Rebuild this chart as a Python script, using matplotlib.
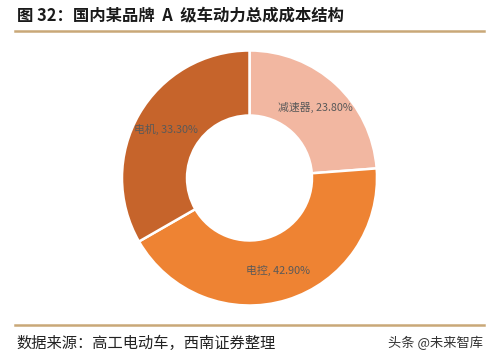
import matplotlib.pyplot as plt
import numpy as np

plt.rcParams['font.family'] = ['Noto Sans CJK SC', 'DejaVu Sans']

# 数据
categories = ['减速器', '电控', '电机']
shares = [23.80, 42.90, 33.30]
colors = ['#F2B7A1', '#EE8333', '#C6642B']

title = '图 32：国内某品牌  A  级车动力总成成本结构'
source = '数据来源：高工电动车，西南证券整理'
mark = '头条 @未来智库'
line_color = '#C9A878'

fig = plt.figure(figsize=(4.95, 3.59), dpi=100)

# 环形图，中心约 (249.5, 178)，半径约 127.5 像素
cx, cy, r = 249.5, 178, 127.5
ax = fig.add_axes([(cx - r) / 495, (359 - cy - r) / 359, 2 * r / 495, 2 * r / 359])
wedges, texts = ax.pie(shares, colors=colors, startangle=90, counterclock=False,
                       labels=[f'{c}, {v:.2f}%' for c, v in zip(categories, shares)],
                       labeldistance=0.755, radius=1,
                       wedgeprops=dict(width=0.51, edgecolor='white', linewidth=1.8),
                       textprops=dict(fontsize=7.8, color='#595959'))
for t in texts:
    t.set_ha('center')
    t.set_va('center')
ax.set_xlim(-1, 1)
ax.set_ylim(-1, 1)
ax.set_aspect('auto')

# 标题与横线
fig.text(17 / 495, 1 - 15 / 359, title, fontsize=11.8, fontweight='bold',
         color='#1a1a1a', va='center', ha='left')
fig.add_artist(plt.Line2D([15 / 495, 484 / 495], [1 - 31 / 359] * 2,
                          color=line_color, linewidth=1.8))
fig.add_artist(plt.Line2D([15 / 495, 484 / 495], [1 - 325 / 359] * 2,
                          color=line_color, linewidth=1.8))

# 来源
fig.text(16 / 495, 1 - 343 / 359, source, fontsize=11, color='#222222',
         va='center', ha='left')
fig.text(483 / 495, 1 - 343 / 359, mark, fontsize=9.5, color='#333333',
         va='center', ha='right')

fig.savefig('out.png', dpi=100)
